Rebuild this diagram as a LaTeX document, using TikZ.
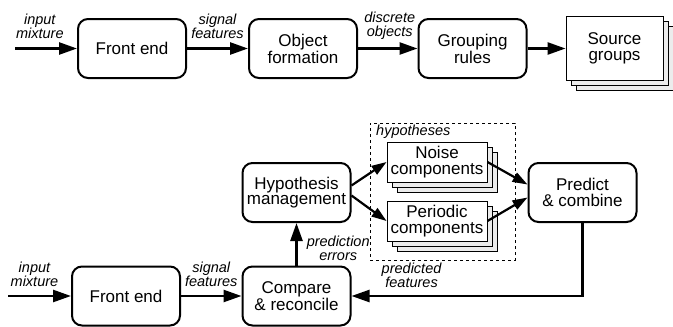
\documentclass[tikz,border=0pt]{standalone}
\usepackage{fontspec}
\setmainfont{Liberation Sans}
\usepackage{tikz}
\usetikzlibrary{arrows.meta,positioning,shadows}

\begin{document}
\begin{tikzpicture}[
  x=1pt, y=-1pt,
  font=\fontsize{17}{15.5}\selectfont,
  box/.style={draw, line width=2pt, rounded corners=10pt, minimum width=108pt,
              minimum height=59pt, align=center, inner sep=1pt},
  stack/.style={draw, fill=white, line width=0.9pt, align=center, inner sep=1pt,
                double copy shadow={fill=gray!15, draw=black, line width=0.9pt,
                  shadow xshift=5pt, shadow yshift=-5pt}},
  frame/.style={draw, dashed, line width=0.8pt, minimum width=145pt, minimum height=137pt},
  ar/.style={-{Triangle[length=18pt,width=12pt]}, line width=2.5pt},
  arsm/.style={-{Triangle[length=15pt,width=10pt]}, line width=2.2pt},
  lab/.style={font=\fontsize{14.5}{14}\selectfont\itshape, align=center,
              inner sep=0pt, text depth=0pt}]
\useasboundingbox (0,0) rectangle (673,327);
% pipeline
\coordinate (in1) at (15,48.5);
\node[box] (fe1) at (132,48.5) {Front end};
\node[box] (obj) at (303,48.5) {Object\\formation};
\node[box] (grp) at (472.5,48.5) {Grouping\\rules};
\node[stack, minimum width=97pt, minimum height=64pt] (src) at (614.5,48.5) {Source\\groups};
\draw[ar] (in1) -- node[lab, above=9pt, pos=0.4]{input\\mixture} (fe1);
\draw[ar] (fe1) -- node[lab, above=9pt]{signal\\features} (obj);
\draw[ar] (obj) -- node[lab, above=11pt, xshift=2pt]{discrete\\objects} (grp);
\draw[ar] (grp) -- (src);
% prediction loop
\node[frame] (hypf) at (442.5,191.5) {};
\node[lab, anchor=base west] (hypl) at (376,135) {hypotheses};
\coordinate (in2) at (8,296);
\node[box] (fe2) at (126,296) {Front end};
\node[box] (comp) at (296.5,296) {Compare\\\& reconcile};
\node[box] (hyp) at (296.5,192.5) {Hypothesis\\management};
\node[box] (pred) at (582.5,192.5) {Predict\\\& combine};
\node[stack, minimum width=100pt, minimum height=40pt] (noise) at (437,162) {Noise\\components};
\node[stack, minimum width=100pt, minimum height=40pt] (per) at (437,221) {Periodic\\components};
\draw[ar] (in2) -- node[lab, above=8pt, pos=0.42]{input\\mixture} (fe2);
\draw[ar] (fe2) -- node[lab, above=8pt]{signal\\features} (comp);
\draw[ar] (comp) -- node[lab, right=9pt, yshift=-4pt]{prediction\\errors} (hyp);
\draw[arsm] ([yshift=7pt]hyp.east) -- (noise.west);
\draw[arsm] ([yshift=-3pt]hyp.east) -- (per.west);
\draw[arsm] (noise.east) -- ([yshift=8pt]pred.west);
\draw[arsm] (per.east) -- ([yshift=-5pt]pred.west);
\draw[ar] (pred.south) |- node[lab, above=7pt, pos=0.87]{predicted\\features} (comp.east);
\end{tikzpicture}
\end{document}
